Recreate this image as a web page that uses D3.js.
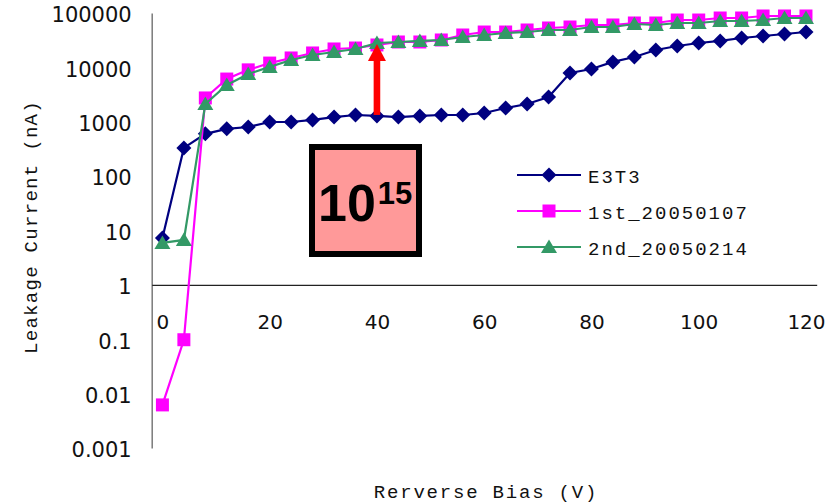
<!DOCTYPE html>
<html>
<head>
<meta charset="utf-8">
<script src="https://cdn.jsdelivr.net/npm/d3@7"></script>
<style>
  html, body { margin: 0; padding: 0; background: #fff; }
  svg { display: block; }
</style>
</head>
<body>
<svg id="chart" width="840" height="504"></svg>
<script>
// Reverse bias sweep (V), 4 V steps
const biasVoltage = [0,4,8,12,16,20,24,28,32,36,40,44,48,52,56,60,64,68,72,76,80,84,88,92,96,100,104,108,112,116,120];

// Leakage current (nA) per measurement
const e3t3 = [7.3,330,600,740,800,990,990,1080,1220,1330,1280,1220,1280,1330,1330,1450,1790,2120,2860,7900,9350,12600,15500,20900,24700,28100,30600,34700,37800,41100,44700];
const first20050107 = [0.0062,0.098,2740,6100,9000,12000,14900,18400,21800,22700,25800,29300,29300,31900,39400,44700,44700,48700,53000,55300,60200,60200,65500,65500,74300,74300,80900,80900,88100,88100,88100];
const second20050214 = [5.9,6.7,2120,4750,7560,10200,13700,16900,19200,21800,28100,29300,30600,31900,36200,39400,42900,44700,48700,48700,55300,55300,62800,60200,65500,65500,71300,71300,74300,80900,80900];

const seriesNames = ["E3T3", "1st_20050107", "2nd_20050214"];
const xTicks = [0,20,40,60,80,100,120];
const yTicks = [0.001,0.01,0.1,1,10,100,1000,10000,100000];
const yTickLabels = ["0.001","0.01","0.1","1","10","100","1000","10000","100000"];
const fluenceBase = "10";
const fluenceExp = "15";
const arrowBias = 40;

const svg = d3.select("#chart");

const x = d3.scaleLinear().domain([-2, 122]).range([151.7, 816.7]);
const y = d3.scaleLog().domain([0.001, 100000]).range([448, 13]);

// y axis (left), gray line, no tick marks
const yAxis = svg.append("g")
  .attr("transform", `translate(${x(-2)},0)`)
  .call(d3.axisLeft(y).tickValues(yTicks)
        .tickFormat((d, i) => yTickLabels[i])
        .tickSize(0).tickPadding(20));
yAxis.select(".domain").attr("stroke", "#7a7a7a").attr("stroke-width", 1.5);
yAxis.selectAll("text")
  .attr("font-family", "DejaVu Sans, sans-serif")
  .attr("font-size", 21)
  .attr("fill", "#111")
  .attr("dy", "0.42em");

// x axis crossing at 1 nA
const xAxis = svg.append("g")
  .attr("transform", `translate(0,${y(1)})`)
  .call(d3.axisBottom(x).tickValues(xTicks)
        .tickFormat(d3.format("d"))
        .tickSize(0).tickSizeOuter(0).tickPadding(30));
xAxis.select(".domain").attr("stroke", "#222").attr("stroke-width", 1.3);
xAxis.selectAll("text")
  .attr("font-family", "DejaVu Sans, sans-serif")
  .attr("font-size", 20)
  .attr("fill", "#111");

// axis titles
svg.append("text")
  .attr("transform", `translate(37,227) rotate(-90)`)
  .attr("text-anchor", "middle")
  .attr("font-family", "Liberation Mono, Courier New, monospace")
  .attr("font-size", 19)
  .attr("letter-spacing", 1.3)
  .attr("fill", "#111")
  .text("Leakage Current (nA)");

svg.append("text")
  .attr("x", 486).attr("y", 498)
  .attr("text-anchor", "middle")
  .attr("font-family", "Liberation Mono, Courier New, monospace")
  .attr("font-size", 19)
  .attr("letter-spacing", 1.8)
  .attr("fill", "#111")
  .text("Rerverse Bias (V)");

// marker shapes
const markerPath = {
  diamond: "M0,-7.5L7.5,0L0,7.5L-7.5,0Z",
  square: "M-6.5,-6.5H6.5V6.5H-6.5Z",
  triangle: "M0,-7.5L8,6L-8,6Z"
};

const series = [
  { name: seriesNames[0], values: e3t3, color: "#000080", marker: "diamond" },
  { name: seriesNames[1], values: first20050107, color: "#FF00FF", marker: "square" },
  { name: seriesNames[2], values: second20050214, color: "#339966", marker: "triangle" }
];

const line = d3.line()
  .x(d => x(d[0]))
  .y(d => y(d[1]));

series.forEach(s => {
  const pts = biasVoltage.map((v, i) => [v, s.values[i]]);
  const g = svg.append("g");
  g.append("path")
    .datum(pts)
    .attr("fill", "none")
    .attr("stroke", s.color)
    .attr("stroke-width", 2.2)
    .attr("d", line);
  g.selectAll("path.m")
    .data(pts)
    .join("path")
    .attr("class", "m")
    .attr("transform", d => `translate(${x(d[0])},${y(d[1])})`)
    .attr("d", markerPath[s.marker])
    .attr("fill", s.color);
});

// red arrow at 40 V from E3T3 up to the irradiated curve
const ai = biasVoltage.indexOf(arrowBias);
const ax = x(arrowBias);
const yBase = y(e3t3[ai]) - 1;
const yTip = y(first20050107[ai]) - 1;
svg.append("rect")
  .attr("x", ax - 3.3).attr("y", yTip + 14)
  .attr("width", 6.6).attr("height", yBase - yTip - 14)
  .attr("fill", "#FF0000");
svg.append("path")
  .attr("d", `M${ax},${yTip}L${ax + 9},${yTip + 17}L${ax - 9},${yTip + 17}Z`)
  .attr("fill", "#FF0000");

// fluence box
svg.append("rect")
  .attr("x", 312).attr("y", 147)
  .attr("width", 107).attr("height", 107)
  .attr("fill", "#FF9999")
  .attr("stroke", "#000")
  .attr("stroke-width", 6);
const ft = svg.append("text")
  .attr("x", 318).attr("y", 221)
  .attr("font-family", "Liberation Sans, Arial, sans-serif")
  .attr("font-weight", "bold")
  .attr("fill", "#000");
ft.append("tspan").attr("font-size", 52).text(fluenceBase);
ft.append("tspan").attr("font-size", 31).attr("dy", -17).attr("dx", 2).text(fluenceExp);

// legend
const legend = svg.append("g");
series.forEach((s, i) => {
  const ly = 175 + i * 36;
  legend.append("line")
    .attr("x1", 517).attr("x2", 581)
    .attr("y1", ly).attr("y2", ly)
    .attr("stroke", s.color).attr("stroke-width", 2.2);
  legend.append("path")
    .attr("transform", `translate(549,${ly})`)
    .attr("d", markerPath[s.marker])
    .attr("fill", s.color);
  legend.append("text")
    .attr("x", 588).attr("y", ly + 7.5)
    .attr("font-family", "Liberation Mono, Courier New, monospace")
    .attr("font-size", 19)
    .attr("letter-spacing", 2)
    .attr("fill", "#111")
    .text(s.name);
});
</script>
</body>
</html>
